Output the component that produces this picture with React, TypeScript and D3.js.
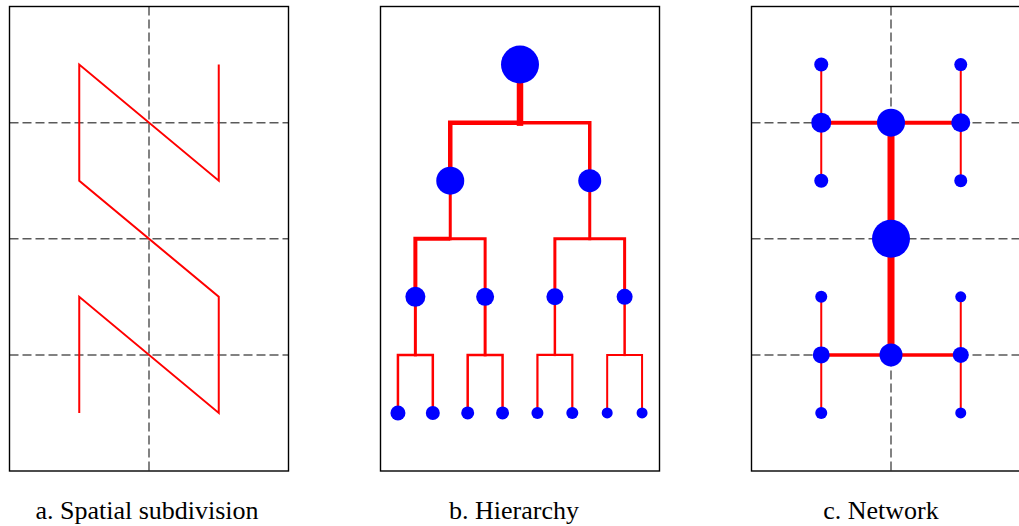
import React from "react";
import * as d3 from "d3";

// ---------- data ----------
const panelTitles = ["a. Spatial subdivision", "b. Hierarchy", "c. Network"];

// Z-order (N-order) curve through the 2 x 4 cell centers: [column, row]
const zCurveCols = [-2, -2, 2, 2, -2, -2, 2, 2];
const zCurveRows = [3.5, 2.5, 3.5, 2.5, 1.5, 0.5, 1.5, 0.5];

// Hierarchy: node sizes by level (left to right), and link weights
const treeRootSize = 19;
const treeLevel1Sizes = [14, 11.5];
const treeLevel2Sizes = [10, 9, 8.5, 8];
const treeLeafSizes = [7.5, 7, 6.5, 6.5, 6, 6, 5.5, 5.5];
const treeStemWeights = [6.5, 3, 3, 3, 3, 2.5, 2.5]; // root, l1 (2), l2 (4)
const treeLinkWeights = [4.5, 3.5, 4, 3, 3, 3, 2.5, 2.5, 2.5, 2.5, 2.2, 2.2, 2, 2];

// Network nodes: column, row, size
const netCols = [-2, 2, -2, 0, 2, -2, 2, 0, -2, 2, -2, 0, 2, -2, 2];
const netRows = [0.5, 0.5, 1, 1, 1, 1.5, 1.5, 2, 2.5, 2.5, 3, 3, 3, 3.5, 3.5];
const netSizes = [7, 6.5, 10, 14, 9.5, 7, 6.5, 19, 6, 5.5, 8.5, 11.5, 8, 6, 5.5];
// Network edges: from node, to node, weight
const netEdgeFrom = [0, 1, 2, 3, 3, 10, 11, 8, 9];
const netEdgeTo = [5, 6, 3, 4, 11, 11, 12, 13, 14];
const netEdgeWeights = [2, 2, 4, 4, 7, 3.5, 3.5, 2, 2];

// ---------- layout ----------
const W = 1019;
const H = 526;
const panelLefts = [9.5, 380.5, 751.5];
const panelW = 279;
const top = 6.5;
const bottom = 471;

const yScale = d3.scaleLinear().domain([0, 4]).range([top, bottom]);
const xScaleFor = (left: number) =>
  d3.scaleLinear().domain([-4, 4]).range([left, left + panelW]);

const RED = "#ff0000";
const BLUE = "#0000ff";

function Frame({ left, dashed }: { left: number; dashed: boolean }) {
  const x = xScaleFor(left);
  return (
    <g>
      {dashed && (
        <g stroke="#5a5a5a" strokeWidth={1.5} strokeDasharray="9,4" fill="none">
          <line x1={x(0)} x2={x(0)} y1={yScale(0)} y2={yScale(4)} />
          {[1, 2, 3].map((r) => (
            <line key={r} x1={x(-4)} x2={x(4)} y1={yScale(r)} y2={yScale(r)} />
          ))}
        </g>
      )}
      <rect
        x={x(-4)}
        y={yScale(0)}
        width={x(4) - x(-4)}
        height={yScale(4) - yScale(0)}
        fill="none"
        stroke="#000"
        strokeWidth={1.4}
      />
    </g>
  );
}

function SpatialPanel() {
  const x = xScaleFor(panelLefts[0]);
  const pts: [number, number][] = zCurveCols.map((c, i) => [x(c), yScale(zCurveRows[i])]);
  const line = d3.line()(pts) || "";
  return (
    <g>
      <Frame left={panelLefts[0]} dashed={true} />
      <path d={line} fill="none" stroke={RED} strokeWidth={2} strokeLinejoin="miter" />
    </g>
  );
}

interface TNode {
  size: number;
  children?: TNode[];
}

function buildTree(): TNode {
  const leaves = treeLeafSizes.map((s) => ({ size: s }));
  const l2 = treeLevel2Sizes.map((s, i) => ({ size: s, children: leaves.slice(i * 2, i * 2 + 2) }));
  const l1 = treeLevel1Sizes.map((s, i) => ({ size: s, children: l2.slice(i * 2, i * 2 + 2) }));
  return { size: treeRootSize, children: l1 };
}

function HierarchyPanel() {
  const x = xScaleFor(panelLefts[1]);
  const root = d3.hierarchy<TNode>(buildTree());
  d3.tree<TNode>().nodeSize([1, 1]).separation(() => 1)(root);
  const nodes = root.descendants();
  const internal = nodes.filter((n) => n.children);
  const links = root.links();
  const ny = (n: any) => yScale(n.depth + 0.5);
  return (
    <g>
      <Frame left={panelLefts[1]} dashed={false} />
      <g fill="none" stroke={RED} strokeLinecap="square">
        {internal.map((n, i) => (
          <path
            key={"s" + i}
            d={`M${x((n as any).x)},${ny(n)}V${yScale(n.depth + 1)}`}
            strokeWidth={treeStemWeights[i]}
          />
        ))}
        {links.map((l, i) => {
          const s = l.source as any;
          const t = l.target as any;
          const mid = yScale(s.depth + 1);
          return (
            <path
              key={"l" + i}
              d={`M${x(s.x)},${mid}H${x(t.x)}V${ny(t)}`}
              strokeWidth={treeLinkWeights[i]}
              strokeLinecap="butt"
              strokeLinejoin="miter"
            />
          );
        })}
      </g>
      <g fill={BLUE}>
        {nodes.map((n, i) => (
          <circle key={i} cx={x((n as any).x)} cy={ny(n)} r={n.data.size} />
        ))}
      </g>
    </g>
  );
}

function NetworkPanel() {
  const x = xScaleFor(panelLefts[2]);
  return (
    <g>
      <Frame left={panelLefts[2]} dashed={true} />
      <g stroke={RED} fill="none">
        {netEdgeFrom.map((f, i) => {
          const t = netEdgeTo[i];
          return (
            <line
              key={i}
              x1={x(netCols[f])}
              y1={yScale(netRows[f])}
              x2={x(netCols[t])}
              y2={yScale(netRows[t])}
              strokeWidth={netEdgeWeights[i]}
            />
          );
        })}
      </g>
      <g fill={BLUE}>
        {netCols.map((c, i) => (
          <circle key={i} cx={x(c)} cy={yScale(netRows[i])} r={netSizes[i]} />
        ))}
      </g>
    </g>
  );
}

export default function App() {
  const titleCenters = [147, 514, 881];
  return (
    <svg
      width={W}
      height={H}
      style={{ position: "absolute", left: 0, top: 0, background: "#fff" }}
    >
      <rect x={0} y={0} width={W} height={H} fill="#fff" />
      <SpatialPanel />
      <HierarchyPanel />
      <NetworkPanel />
      {panelTitles.map((t, i) => (
        <text
          key={i}
          x={titleCenters[i]}
          y={519}
          textAnchor="middle"
          fontFamily="Times New Roman"
          fontSize={26}
          fill="#000"
        >
          {t}
        </text>
      ))}
    </svg>
  );
}
